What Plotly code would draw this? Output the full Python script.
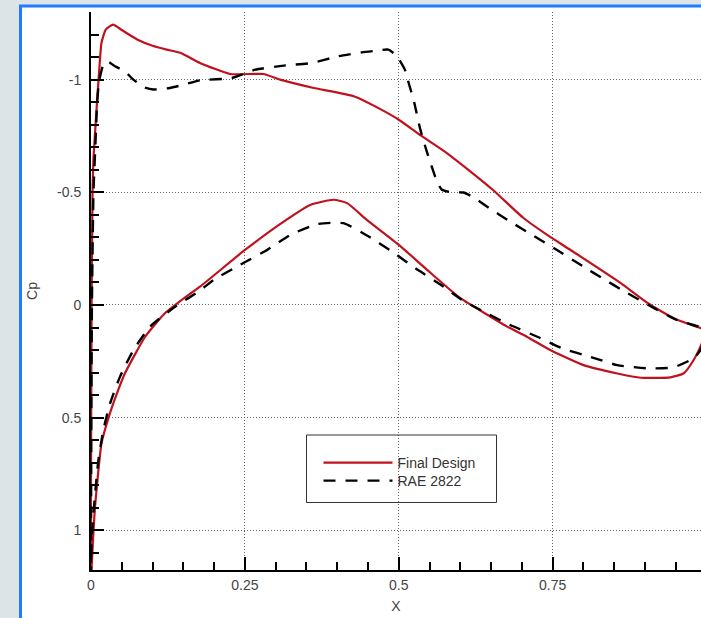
import plotly.graph_objects as go

# ---------------- data ----------------
final_upper_x = [0.0, 0.0003, 0.001, 0.0025, 0.004, 0.0065, 0.01, 0.0146, 0.017, 0.024, 0.036,
                 0.05, 0.075, 0.1, 0.123, 0.145, 0.177, 0.226, 0.28, 0.307, 0.362, 0.427, 0.47,
                 0.5, 0.538, 0.578, 0.616, 0.654, 0.702, 0.741, 0.779, 0.86, 0.904, 0.946, 0.99, 1.0]
final_upper_cp = [1.2, 0.5, 0.0, -0.5, -0.65, -0.76, -0.91, -1.09, -1.163, -1.222, -1.244,
                  -1.22, -1.178, -1.15, -1.133, -1.119, -1.074, -1.025, -1.025, -1.0, -0.963, -0.926, -0.869,
                  -0.822, -0.748, -0.674, -0.593, -0.508, -0.387, -0.311, -0.244, -0.098, -0.009, 0.058, 0.102, 0.11]

final_lower_x = [0.0, 0.001, 0.0038, 0.0065, 0.011, 0.017, 0.028, 0.042, 0.055, 0.088, 0.12, 0.147,
                 0.177, 0.25, 0.313, 0.356, 0.394, 0.416, 0.448, 0.5, 0.546, 0.6, 0.649, 0.676,
                 0.708, 0.746, 0.8, 0.855, 0.893, 0.941, 0.963, 0.979, 0.99, 1.0]
final_lower_cp = [1.2, 1.163, 1.015, 0.896, 0.763, 0.615, 0.504, 0.393, 0.304, 0.141, 0.037, -0.022,
                  -0.081, -0.244, -0.37, -0.444, -0.467, -0.452, -0.378, -0.267, -0.156, -0.03, 0.052, 0.096,
                  0.141, 0.2, 0.267, 0.304, 0.323, 0.321, 0.303, 0.244, 0.185, 0.11]

rae_upper_x = [0.0, 0.0005, 0.0015, 0.004, 0.007, 0.01, 0.013, 0.02, 0.0265, 0.039, 0.055, 0.066,
               0.085, 0.101, 0.128, 0.147, 0.177, 0.229, 0.267, 0.313, 0.359, 0.402, 0.44, 0.46,
               0.483, 0.497, 0.511, 0.516, 0.524, 0.535, 0.546, 0.562, 0.57, 0.585, 0.605, 0.62,
               0.643, 0.681, 0.719, 0.757, 0.8, 0.833, 0.871, 0.914, 0.952, 0.987, 1.0]
rae_upper_cp = [1.2, 0.5, 0.0, -0.5, -0.7, -0.9, -0.99, -1.067, -1.081, -1.059, -1.037, -1.007,
                -0.967, -0.956, -0.963, -0.975, -0.997, -1.007, -1.044, -1.062, -1.074, -1.104, -1.121, -1.127,
                -1.133, -1.104, -1.037, -0.985, -0.911, -0.778, -0.676, -0.548, -0.511, -0.5, -0.499, -0.48,
                -0.437, -0.37, -0.307, -0.244, -0.17, -0.115, -0.053, 0.013, 0.067, 0.096, 0.11]

rae_lower_x = [0.0, 0.001, 0.004, 0.0077, 0.012, 0.02, 0.031, 0.047, 0.069, 0.096, 0.137, 0.177,
               0.199, 0.242, 0.286, 0.324, 0.367, 0.41, 0.451, 0.489, 0.527, 0.567, 0.603, 0.643,
               0.681, 0.725, 0.765, 0.811, 0.855, 0.904, 0.946, 0.979, 0.99, 1.0]
rae_lower_cp = [1.2, 1.044, 0.926, 0.807, 0.689, 0.556, 0.437, 0.319, 0.2, 0.096, 0.007, -0.064,
                -0.111, -0.178, -0.244, -0.311, -0.359, -0.363, -0.304, -0.237, -0.163, -0.092, -0.022, 0.037,
                0.089, 0.141, 0.192, 0.23, 0.267, 0.281, 0.277, 0.236, 0.2, 0.11]

series_names = ["Final Design", "RAE 2822"]
x_tick_vals = [0, 0.25, 0.5, 0.75, 1]
x_tick_text = ["0", "0.25", "0.5", "0.75", "1"]
y_tick_vals = [-1, -0.5, 0, 0.5, 1]
y_tick_text = ["-1", "-0.5", "0", "0.5", "1"]

# ---------------- layout geometry ----------------
W, H = 701, 618
ML, MR, MT, MB = 91, 0, 12, 48
PW, PH = W - ML - MR, H - MT - MB


def px_x(p):
    return (p - ML) / PW


def px_y(p):
    return (H - MB - p) / PH


FONT = "Liberation Sans, Arial, sans-serif"


def loop(ux, ucp, lx, lcp):
    xs = list(reversed(ux)) + lx[1:]
    ys = list(reversed(ucp)) + lcp[1:]
    return xs, ys


fx, fy = loop(final_upper_x, final_upper_cp, final_lower_x, final_lower_cp)
rx, ry = loop(rae_upper_x, rae_upper_cp, rae_lower_x, rae_lower_cp)

fig = go.Figure()
fig.add_trace(go.Scatter(x=fx, y=fy, mode="lines", name=series_names[0], legend="legend",
                         line=dict(color="#c0121e", width=2.2, shape="spline", smoothing=0.5)))
fig.add_trace(go.Scatter(x=rx, y=ry, mode="lines", name=series_names[1], legend="legend2",
                         line=dict(color="#000000", width=2.4, dash="12px,10px", shape="spline", smoothing=0.5)))

# white panel with blue frame
fig.add_shape(type="rect", xref="paper", yref="paper", layer="below",
              x0=px_x(20.5), x1=px_x(740), y0=px_y(660), y1=px_y(6),
              fillcolor="white", line=dict(color="#1f7bff", width=3))
# legend box
fig.add_shape(type="rect", xref="paper", yref="paper", layer="above",
              x0=px_x(306.5), x1=px_x(496.5), y0=px_y(502.5), y1=px_y(435),
              fillcolor="rgba(0,0,0,0)", line=dict(color="#333333", width=1))

axis_common = dict(
    showline=True, linecolor="black", linewidth=2, mirror=False,
    ticks="inside", ticklen=13, tickwidth=2, tickcolor="black",
    showgrid=True, gridcolor="#666666", gridwidth=1, griddash="1px,2px",
    zeroline=False,
    tickfont=dict(family=FONT, size=14, color="#444444"),
)

fig.update_xaxes(range=[0, PW / 615.6], tickmode="array", tickvals=x_tick_vals, ticktext=x_tick_text,
                 minor=dict(dtick=0.05, ticks="inside", ticklen=8, tickwidth=1.5, tickcolor="black", showgrid=False),
                 title=dict(text="X", font=dict(family=FONT, size=14, color="#444444"), standoff=9),
                 ticklabelstandoff=1, **axis_common)
fig.update_yaxes(range=[1.176, -1.3], tickmode="array", tickvals=y_tick_vals, ticktext=y_tick_text,
                 minor=dict(dtick=0.1, ticks="inside", ticklen=8, tickwidth=1.5, tickcolor="black", showgrid=False),
                 title=dict(text="Cp", font=dict(family=FONT, size=14, color="#444444"), standoff=16),
                 ticklabelstandoff=5, **axis_common)

legend_common = dict(xanchor="left", yanchor="middle", bgcolor="rgba(0,0,0,0)", borderwidth=0,
                     itemwidth=69, font=dict(family=FONT, size=14, color="#333333"))

fig.update_layout(
    width=W, height=H,
    margin=dict(l=ML, r=MR, t=MT, b=MB, autoexpand=False),
    paper_bgcolor="#dde4e8", plot_bgcolor="rgba(0,0,0,0)",
    showlegend=True,
    legend=dict(x=px_x(318.5), y=px_y(463), **legend_common),
    legend2=dict(x=px_x(318.5), y=px_y(481), **legend_common),
)

fig.write_html("out.html")
